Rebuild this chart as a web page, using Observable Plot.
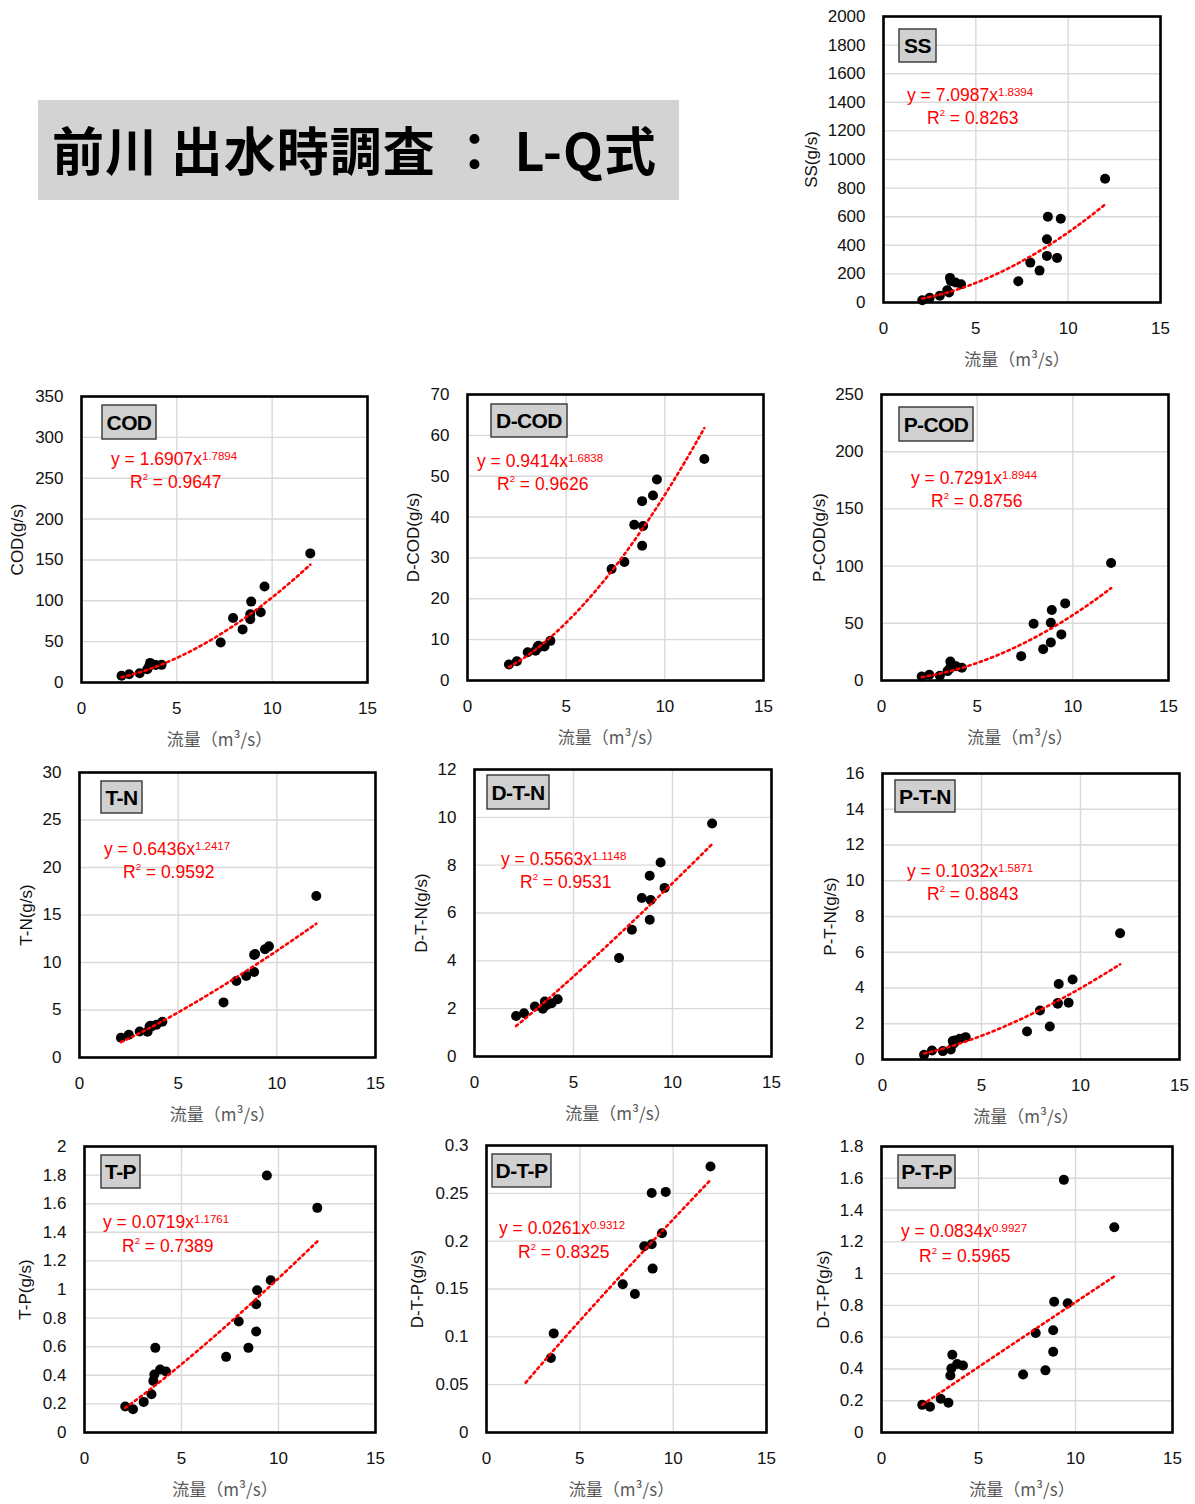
<!DOCTYPE html>
<html><head><meta charset="utf-8">
<script src="https://cdn.jsdelivr.net/npm/d3@7"></script>
<script src="https://cdn.jsdelivr.net/npm/@observablehq/plot@0.6"></script>
<style>
html,body{margin:0;padding:0;background:#fff;width:1195px;height:1504px;overflow:hidden;}
#root{position:relative;width:1195px;height:1504px;overflow:hidden;}
#title{position:absolute;left:38px;top:100px;width:641px;height:100px;background:#d3d3d3;font-family:"Noto Sans CJK JP";font-weight:700;font-size:52px;letter-spacing:1px;line-height:98px;padding-left:14px;box-sizing:border-box;white-space:pre;color:#000;}
</style></head><body><div id="root"><div id="title">前川 出水時調査 ： L-Q式</div></div>
<script>
// ---- data ----
const Q = [2.1, 2.5, 3.05, 3.45, 3.55, 3.6, 3.65, 3.9, 4.2, 7.3, 7.95, 8.45, 8.85, 8.85, 8.9, 9.4, 9.6, 12.0];
const SS   = [16, 33, 47, 86, 70, 172, 149, 140, 128, 149, 279, 223, 442, 326, 600, 312, 586, 865];
const COD  = [8.2, 10.2, 11.4, 16.3, 20, 24, 22, 21.5, 21.6, 49, 79, 65, 83.5, 77.5, 99, 86, 117.5, 158];
const DCOD = [3.9, 4.7, 6.9, 7.3, 8.2, 8.5, 8.2, 8.3, 9.7, 27.3, 29, 38.1, 43.9, 33, 37.8, 45.3, 49.2, 54.2];
const PCOD = [3.5, 5, 4.1, 8.2, 10, 16.6, 14, 12.5, 11.1, 21.3, 49.6, 27.4, 50.5, 33.3, 61.6, 40.3, 67.4, 102.7];
const TN   = [2.08, 2.39, 2.74, 2.71, 3.27, 3.35, 3.27, 3.45, 3.76, 5.8, 8.05, 8.58, 9.0, 10.8, 10.9, 11.4, 11.7, 17.0];
const DTN  = [1.69, 1.81, 2.09, 2.0, 2.3, 2.2, 2.15, 2.23, 2.39, 4.12, 5.3, 6.63, 7.56, 5.72, 6.54, 8.11, 7.05, 9.74];
const PTN  = [0.26, 0.5, 0.47, 0.56, 1.03, 0.9, 1.06, 1.16, 1.25, 1.57, 2.74, 1.85, 3.12, 3.16, 4.22, 3.17, 4.48, 7.06];
const TP   = [0.182, 0.163, 0.214, 0.268, 0.361, 0.406, 0.592, 0.44, 0.427, 0.529, 0.776, 0.592, 0.897, 0.706, 0.995, 1.797, 1.065, 1.571];
const DTP  = [null, null, null, 0.0778, null, 0.1036, null, null, null, 0.1549, 0.1448, 0.1946, 0.2504, 0.1967, 0.1713, 0.2082, 0.2515, 0.278];
const PTP  = [0.174, 0.162, 0.212, 0.187, 0.359, 0.403, 0.489, 0.431, 0.422, 0.365, 0.626, 0.391, 0.643, 0.508, 0.823, 1.59, 0.813, 1.292];

const names   = ["SS", "COD", "D-COD", "P-COD", "T-N", "D-T-N", "P-T-N", "T-P", "D-T-P", "P-T-P"];
const yLabels = ["SS(g/s)", "COD(g/s)", "D-COD(g/s)", "P-COD(g/s)", "T-N(g/s)", "D-T-N(g/s)", "P-T-N(g/s)", "T-P(g/s)", "D-T-P(g/s)", "D-T-P(g/s)"];
const series  = [SS, COD, DCOD, PCOD, TN, DTN, PTN, TP, DTP, PTP];
const coefA   = [7.0987, 1.6907, 0.9414, 0.7291, 0.6436, 0.5563, 0.1032, 0.0719, 0.0261, 0.0834];
const coefB   = [1.8394, 1.7894, 1.6838, 1.8944, 1.2417, 1.1148, 1.5871, 1.1761, 0.9312, 0.9927];
const aText   = ["7.0987", "1.6907", "0.9414", "0.7291", "0.6436", "0.5563", "0.1032", "0.0719", "0.0261", "0.0834"];
const bText   = ["1.8394", "1.7894", "1.6838", "1.8944", "1.2417", "1.1148", "1.5871", "1.1761", "0.9312", "0.9927"];
const r2Text  = ["0.8263", "0.9647", "0.9626", "0.8756", "0.9592", "0.9531", "0.8843", "0.7389", "0.8325", "0.5965"];
const xTicks  = [0, 5, 10, 15];
const yTicks  = [
  [0, 200, 400, 600, 800, 1000, 1200, 1400, 1600, 1800, 2000],
  [0, 50, 100, 150, 200, 250, 300, 350],
  [0, 10, 20, 30, 40, 50, 60, 70],
  [0, 50, 100, 150, 200, 250],
  [0, 5, 10, 15, 20, 25, 30],
  [0, 2, 4, 6, 8, 10, 12],
  [0, 2, 4, 6, 8, 10, 12, 14, 16],
  [0, 0.2, 0.4, 0.6, 0.8, 1, 1.2, 1.4, 1.6, 1.8, 2],
  [0, 0.05, 0.1, 0.15, 0.2, 0.25, 0.3],
  [0, 0.2, 0.4, 0.6, 0.8, 1, 1.2, 1.4, 1.6, 1.8]
];
const xLabel = "流量（m³/s）";

// ---- layout (page pixels) ----
const layout = [
  {l: 883, t: 16,   r: 1160, b: 302,  badge: [16, 13, 37, 33], eq: [907, 101], r2: [927, 124], yOff: 72},
  {l: 81,  t: 396,  r: 367,  b: 682,  badge: [21, 9, 54, 34],  eq: [111, 465], r2: [130, 488], yOff: 64},
  {l: 467, t: 394,  r: 763,  b: 680,  badge: [24, 10, 76, 33], eq: [477, 467], r2: [497, 490], yOff: 54},
  {l: 881, t: 394,  r: 1168, b: 680,  badge: [18, 13, 74, 34], eq: [911, 484], r2: [931, 507], yOff: 62},
  {l: 79,  t: 772,  r: 375,  b: 1057, badge: [22, 9, 41, 32],  eq: [104, 855], r2: [123, 878], yOff: 53},
  {l: 474, t: 769,  r: 771,  b: 1056, badge: [13, 6, 62, 34],  eq: [501, 865], r2: [520, 888], yOff: 53},
  {l: 882, t: 773,  r: 1179, b: 1059, badge: [13, 7, 60, 32],  eq: [907, 877], r2: [927, 900], yOff: 52},
  {l: 84,  t: 1146, r: 375,  b: 1432, badge: [17, 9, 39, 33],  eq: [103, 1228], r2: [122, 1252], yOff: 59},
  {l: 486, t: 1145, r: 766,  b: 1432, badge: [6, 9, 59, 33],   eq: [499, 1234], r2: [518, 1258], yOff: 69},
  {l: 881, t: 1146, r: 1172, b: 1432, badge: [17, 9, 57, 33],  eq: [901, 1237], r2: [919, 1262], yOff: 58}
];

const fmt = d => String(+(+d).toFixed(3));
const M = {l: 95, r: 30, t: 22, b: 78};
const [qMin, qMax] = d3.extent(Q);
const root = document.getElementById("root");
const FONT = "'Liberation Sans', Arial, sans-serif";

names.forEach((name, i) => {
  const L = layout[i];
  const fw = L.r - L.l, fh = L.b - L.t;
  const data = Q.map((q, j) => ({q, v: series[i][j]})).filter(d => d.v != null);
  const trend = d3.range(0, 201).map(k => {
    const q = qMin + (qMax - qMin) * k / 200;
    return {q, v: coefA[i] * Math.pow(q, coefB[i])};
  });
  const yMax = d3.max(yTicks[i]);
  const svg = Plot.plot({
    width: fw + M.l + M.r,
    height: fh + M.t + M.b,
    marginLeft: M.l, marginRight: M.r, marginTop: M.t, marginBottom: M.b,
    x: {domain: [0, 15]},
    y: {domain: [0, yMax]},
    style: {background: "transparent", overflow: "visible", fontFamily: FONT, fontSize: "17px", color: "#111"},
    marks: [
      Plot.gridX(xTicks, {stroke: "#d9d9d9", strokeOpacity: 1, strokeWidth: 1.4}),
      Plot.gridY(yTicks[i], {stroke: "#d9d9d9", strokeOpacity: 1, strokeWidth: 1.4}),
      Plot.axisX({ticks: xTicks, tickSize: 0, tickPadding: 19, tickFormat: fmt, label: null}),
      Plot.axisY({ticks: yTicks[i], tickSize: 0, tickPadding: 18, tickFormat: fmt, label: null}),
      Plot.text([xLabel], {text: d => d, frameAnchor: "bottom", dy: 63, dx: -5, fontSize: 17, fill: "#595959", fontFamily: "'Noto Sans CJK JP'"}),
      Plot.text([yLabels[i]], {text: d => d, frameAnchor: "left", textAnchor: "middle", lineAnchor: "middle", dx: -L.yOff, rotate: -90, fontSize: 17, fill: "#111"}),
      Plot.dot(data, {x: "q", y: "v", r: 5, fill: "#000", stroke: "none"}),
      Plot.line(trend, {x: "q", y: "v", stroke: "#ff0000", strokeWidth: 2.6, strokeDasharray: "2.4 3.6"}),
      Plot.frame({stroke: "#000", strokeWidth: 2.6})
    ]
  });
  const ox = L.l - M.l, oy = L.t - M.t;
  svg.style.position = "absolute";
  svg.style.left = ox + "px";
  svg.style.top = oy + "px";
  svg.style.maxWidth = "none";

  const s = d3.select(svg);
  const [bx, by, bw, bh] = L.badge;
  const g = s.append("g");
  g.append("rect").attr("x", M.l + bx).attr("y", M.t + by).attr("width", bw).attr("height", bh)
    .attr("fill", "#d0d0d0").attr("stroke", "#404040").attr("stroke-width", 1.5);
  g.append("text").attr("x", M.l + bx + bw / 2).attr("y", M.t + by + bh / 2 + 7.5)
    .attr("text-anchor", "middle").attr("font-family", FONT)
    .attr("font-weight", 700).attr("font-size", 21).attr("letter-spacing", "-0.6").attr("fill", "#000")
    .text(name);

  const t1 = s.append("text").attr("x", L.eq[0] - ox).attr("y", L.eq[1] - oy).attr("text-anchor", "start")
    .attr("fill", "#ff0000").attr("font-size", 17.5).attr("font-family", FONT);
  t1.append("tspan").text("y = " + aText[i] + "x");
  t1.append("tspan").attr("font-size", 11.5).attr("dy", -5).text(bText[i]);

  const t2 = s.append("text").attr("x", L.r2[0] - ox).attr("y", L.r2[1] - oy).attr("text-anchor", "start")
    .attr("fill", "#ff0000").attr("font-size", 17.5).attr("font-family", FONT);
  t2.append("tspan").text("R");
  t2.append("tspan").attr("font-size", 9.5).attr("dy", -8).text("2");
  t2.append("tspan").attr("dy", 8).text(" = " + r2Text[i]);

  root.appendChild(svg);
});
</script></body></html>
